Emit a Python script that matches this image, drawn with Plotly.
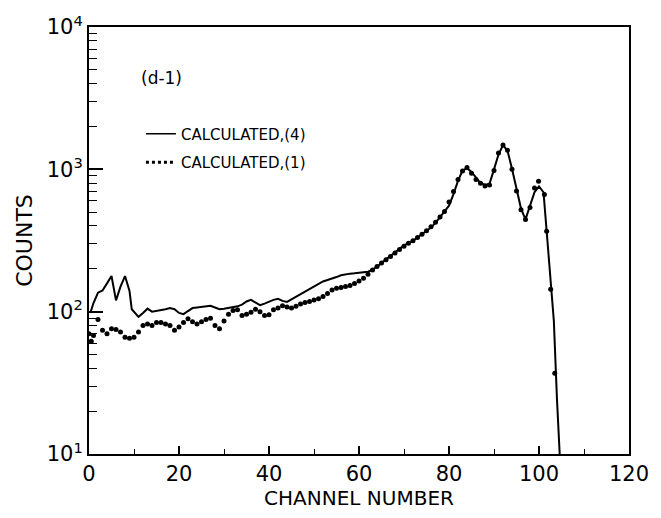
import plotly.graph_objects as go

# Calculated,(4) - solid line
ch_line = [0.3, 1, 2, 3, 4, 5, 6, 7, 8, 9, 9.5, 10, 11, 12, 13, 14, 15, 16, 17, 18, 19, 20,
           21, 22, 23, 24, 25, 26, 27, 28, 29, 30, 31, 32, 33, 34, 35, 36, 37, 38, 39, 40,
           41, 42, 43, 44, 45, 46, 47, 48, 49, 50, 51, 52, 53, 54, 55, 56, 57, 58, 59, 60,
           61, 62, 63, 64, 65, 66, 67, 68, 69, 70, 71, 72, 73, 74, 75, 76, 77, 78, 79, 80,
           81, 82, 83, 84, 85, 86, 87, 88, 89, 90, 91, 92, 93, 94, 95, 96, 97, 98, 99, 100,
           101, 101.7, 102.7, 103.3, 104, 104.6]
counts_line = [98, 115, 136, 141, 158, 178, 120, 150, 178, 140, 104, 100, 92, 98, 105, 100, 101, 103, 104, 106, 104, 98,
               96, 101, 106, 107, 108, 110, 110, 107, 104, 105, 106, 107, 109, 112, 118, 121, 116, 111, 114, 118,
               121, 123, 119, 117, 122, 127, 132, 138, 145, 151, 157, 163, 167, 170, 175, 180, 183, 185, 186, 187,
               188, 191, 197, 207, 219, 233, 247, 262, 278, 292, 303, 315, 332, 350, 368, 390, 420, 460, 500, 555,
               670, 830, 980, 1020, 960, 870, 800, 780, 790, 1000, 1270, 1480, 1350, 1010, 720, 530, 445, 545, 690, 760,
               690, 368, 144, 86, 24, 10]

# Calculated,(1) - dots
ch_dots = [0, 0.5, 1, 2, 3, 4, 5, 6, 7, 8, 9, 10, 11, 12, 13, 14, 15, 16, 17, 18, 19, 20,
           21, 22, 23, 24, 25, 26, 27, 28, 29, 30, 31, 32, 33, 34, 35, 36, 37, 38, 39, 40,
           41, 42, 43, 44, 45, 46, 47, 48, 49, 50, 51, 52, 53, 54, 55, 56, 57, 58, 59, 60,
           61, 62, 63, 64, 65, 66, 67, 68, 69, 70, 71, 72, 73, 74, 75, 76, 77, 78, 79, 80,
           81, 82, 83, 84, 85, 86, 87, 88, 89, 90, 91, 92, 93, 94, 95, 96, 97, 98, 99, 99.9,
           101.2, 101.7, 102.6, 103.5]
counts_dots = [70, 62, 68, 88, 74, 70, 76, 75, 72, 66, 65, 66, 72, 80, 82, 80, 84, 84, 82, 80, 74, 78,
               84, 89, 85, 82, 85, 88, 90, 80, 76, 86, 96, 102, 103, 94, 96, 99, 104, 100, 94, 95,
               103, 106, 110, 108, 106, 109, 113, 116, 118, 121, 123, 128, 134, 142, 146, 148, 150, 153, 158, 164,
               172, 183, 196, 208, 220, 232, 244, 258, 273, 288, 302, 315, 332, 350, 370, 395, 425, 462, 505, 590,
               700, 850, 975, 1030, 940, 850, 800, 765, 775, 980, 1300, 1480, 1360, 1000, 705, 520, 445, 540, 740, 824,
               665, 368, 144, 37]

x_ticks = [0, 20, 40, 60, 80, 100, 120]
y_tickvals = [10, 100, 1000, 10000]
y_ticktext = ["10<sup>1</sup>", "10<sup>2</sup>", "10<sup>3</sup>", "10<sup>4</sup>"]
legend_names = ["CALCULATED,(4)", "CALCULATED,(1)"]
panel_label = "(d-1)"

W, H = 661, 518
L, R, T, B = 89, 21, 25, 64
pw, ph = W - L - R, H - T - B

def px2paper(px, py):
    return (px - L) / pw, 1 - (py - T) / ph

font = "DejaVu Sans"
fig = go.Figure()
fig.add_trace(go.Scatter(x=ch_line, y=counts_line, mode="lines",
                         line=dict(color="black", width=2), showlegend=False))
fig.add_trace(go.Scatter(x=ch_dots, y=counts_dots, mode="markers",
                         marker=dict(color="black", size=5), showlegend=False))
# legend entries
fig.add_trace(go.Scatter(x=[None], y=[None], mode="lines", name=legend_names[0],
                         line=dict(color="black", width=1.5), legendgroup="a"))
fig.add_trace(go.Scatter(x=[None], y=[None], mode="lines", name=legend_names[1],
                         line=dict(color="black", width=3, dash="dot"), legendgroup="b"))

lx, ly = px2paper(142, 116)
ax, ay = px2paper(140, 76)
fig.add_annotation(x=ax, y=ay, xref="paper", yref="paper", text=panel_label,
                   showarrow=False, xanchor="left", yanchor="middle",
                   font=dict(family=font, size=17, color="black"))

fig.update_layout(
    width=W, height=H, margin=dict(l=L, r=R, t=T, b=B),
    paper_bgcolor="white", plot_bgcolor="white",
    font=dict(family=font, color="black"),
    legend=dict(x=lx, y=ly, xanchor="left", yanchor="top", bgcolor="rgba(0,0,0,0)",
                font=dict(family=font, size=15, color="black"), tracegroupgap=6,
                traceorder="grouped"),
    xaxis=dict(range=[0, 120], tickvals=x_ticks, ticks="inside", ticklen=8, tickwidth=1.5,
               tickcolor="black", showline=True, linecolor="black", linewidth=2, mirror=True,
               showgrid=False, zeroline=False,
               tickfont=dict(family=font, size=21, color="black"),
               minor=dict(dtick=10, tick0=0, ticks="inside", ticklen=5, tickwidth=1.2, tickcolor="black"),
               title=dict(text="CHANNEL NUMBER", font=dict(family=font, size=20, color="black"), standoff=4)),
    yaxis=dict(type="log", range=[1, 4], tickvals=y_tickvals, ticktext=y_ticktext,
               ticks="inside", ticklen=14, tickwidth=1.5, tickcolor="black",
               showline=True, linecolor="black", linewidth=2, mirror=True,
               showgrid=False, zeroline=False,
               tickfont=dict(family=font, size=21, color="black"),
               minor=dict(dtick="D1", ticks="inside", ticklen=8, tickwidth=1.2, tickcolor="black"),
               title=dict(text="COUNTS", font=dict(family=font, size=22, color="black"), standoff=8)),
)

fig.write_html("out.html")
